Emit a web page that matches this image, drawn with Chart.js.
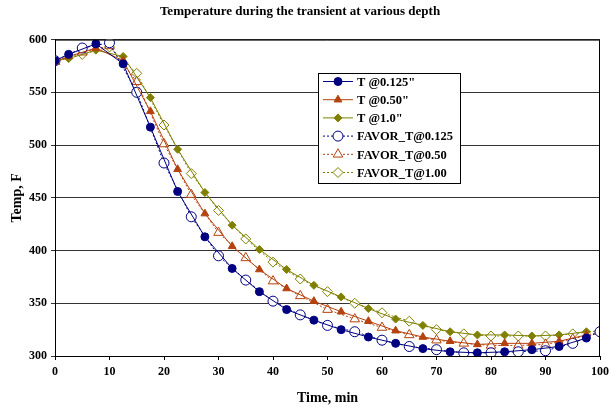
<!DOCTYPE html>
<html>
<head>
<meta charset="utf-8">
<script src="https://cdn.jsdelivr.net/npm/chart.js@4"></script>
<style>
  html, body { margin: 0; padding: 0; background: #fff; }
  canvas { display: block; }
</style>
</head>
<body>
<canvas id="tempChart" width="609" height="407"></canvas>
<script>
// measured times (min)
var tSolid = [0, 2.5, 7.5, 12.5, 17.5, 22.5, 27.5, 32.5, 37.5, 42.5, 47.5, 52.5, 57.5, 62.5, 67.5, 72.5, 77.5, 82.5, 87.5, 92.5, 97.5];
var tFavor = [0, 5, 10, 15, 20, 25, 30, 35, 40, 45, 50, 55, 60, 65, 70, 75, 80, 85, 90, 95, 100];

var t0125 = [580, 586, 596, 577, 517, 456, 413, 383, 361, 344, 334, 325, 318, 312, 307, 304, 303, 304, 306, 309, 317];
var t050  = [579, 584, 592, 580, 532, 477, 435, 404, 382, 364, 352, 342, 333, 324, 318, 314, 311, 312, 312, 314, 320];
var t100  = [580, 582, 590, 584, 545, 496, 455, 424, 401, 382, 367, 356, 345, 335, 329, 323, 320, 320, 319, 320, 323];

var fav0125 = [580, 592, 597, 550, 483, 432, 395, 372, 352, 339, 329, 323, 315, 309, 306, 303, 303, 304, 305, 312, 323];
var fav050  = [579, 588, 594, 560, 501, 453, 417, 393, 371, 357, 344, 335, 327, 320, 315, 312, 310, 310, 311, 316, 323];
var fav100  = [580, 586, 593, 568, 519, 473, 438, 411, 389, 373, 361, 350, 341, 333, 325, 321, 319, 319, 319, 321, 324];

var xTicks = [0, 10, 20, 30, 40, 50, 60, 70, 80, 90, 100];
var yTicks = [300, 350, 400, 450, 500, 550, 600];

var navy = '#000080';
var rust = '#b5420e';
var olive = '#808000';

function pts(xs, ys) {
	return xs.map(function (x, i) { return { x: x, y: ys[i] }; });
}

var serif = '"Liberation Serif", "Times New Roman", serif';

// legend box drawn inside the plot, like the original
var boxLegend = {
	id: 'boxLegend',
	afterDraw: function (chart) {
		var c = chart.ctx;
		var x = 318, y = 73, w = 142, h = 110;
		c.save();
		c.fillStyle = '#fff';
		c.fillRect(x, y, w, h);
		c.strokeStyle = '#000';
		c.lineWidth = 1;
		c.strokeRect(x + 0.5, y + 0.5, w, h);
		chart.data.datasets.forEach(function (ds, i) {
			var ry = y + 8.5 + i * 18.2;
			c.strokeStyle = ds.borderColor;
			c.lineWidth = 1;
			c.setLineDash(ds.borderDash || []);
			c.beginPath();
			c.moveTo(323, ry);
			c.lineTo(353, ry);
			c.stroke();
			c.setLineDash([]);
			c.fillStyle = ds.pointBackgroundColor;
			c.strokeStyle = ds.borderColor;
			c.lineWidth = 1;
			Chart.helpers.drawPoint(c, { pointStyle: ds.pointStyle, radius: ds.pointRadius, borderWidth: 1 }, 338, ry);
			c.fillStyle = '#000';
			c.font = 'bold 12.5px ' + serif;
			c.textBaseline = 'middle';
			c.fillText(ds.label, 357, ry + 1);
		});
		c.restore();
	}
};

function series(label, data, color, style, radius, filled, dashed) {
	return {
		label: label,
		data: data,
		showLine: true,
		borderColor: color,
		borderWidth: 1,
		borderDash: dashed ? [2, 2] : [],
		backgroundColor: filled ? color : '#fff',
		pointBackgroundColor: filled ? color : '#fff',
		pointBorderColor: color,
		pointBorderWidth: 1,
		pointStyle: style,
		pointRadius: radius,
		pointHoverRadius: radius
	};
}

var ctx = document.getElementById('tempChart').getContext('2d');
var tempChart = new Chart(ctx, {
	type: 'scatter',
	data: {
		datasets: [
			series('T @0.125"', pts(tSolid, t0125), navy, 'circle', 4, true, false),
			series('T @0.50"', pts(tSolid, t050), rust, 'triangle', 4.5, true, false),
			series('T @1.0"', pts(tSolid, t100), olive, 'rectRot', 4, true, false),
			series('FAVOR_T@0.125', pts(tFavor, fav0125), navy, 'circle', 5, false, true),
			series('FAVOR_T@0.50', pts(tFavor, fav050), rust, 'triangle', 5.5, false, true),
			series('FAVOR_T@1.00', pts(tFavor, fav100), olive, 'rectRot', 5, false, true)
		]
	},
	options: {
		responsive: false,
		animation: false,
		layout: { padding: { left: 0, right: 9, top: 0, bottom: 0 } },
		plugins: {
			legend: { display: false },
			tooltip: { enabled: false },
			title: {
				display: true,
				text: 'Temperature during the transient at various depth',
				color: '#000',
				font: { size: 13, weight: 'bold', family: serif },
				padding: { top: 4, bottom: 20 }
			}
		},
		scales: {
			x: {
				type: 'linear',
				min: 0,
				max: 100,
				afterBuildTicks: function (scale) {
					scale.ticks = xTicks.map(function (v) { return { value: v }; });
				},
				afterFit: function (scale) {
					scale.height = 51;
					scale.paddingRight = 0;
					scale.paddingLeft = 0;
				},
				grid: {
					display: true,
					drawOnChartArea: false,
					drawTicks: true,
					tickLength: 4,
					color: '#000'
				},
				border: { color: '#000', width: 1 },
				ticks: {
					color: '#000',
					padding: 5,
					maxRotation: 0,
					font: { size: 12, weight: 'bold', family: serif }
				},
				title: {
					display: true,
					text: 'Time, min',
					color: '#000',
					padding: { top: 5, bottom: 0 },
					font: { size: 14, weight: 'bold', family: serif }
				}
			},
			y: {
				type: 'linear',
				min: 300,
				max: 600,
				afterBuildTicks: function (scale) {
					scale.ticks = yTicks.map(function (v) { return { value: v }; });
				},
				afterFit: function (scale) { scale.width = 55; },
				grid: {
					color: '#333',
					lineWidth: 1,
					tickLength: 4
				},
				border: { color: '#000', width: 1 },
				ticks: {
					color: '#000',
					padding: 4,
					font: { size: 12, weight: 'bold', family: serif }
				},
				title: {
					display: true,
					text: 'Temp, F',
					color: '#000',
					padding: { top: 9, bottom: 4 },
					font: { size: 14, weight: 'bold', family: serif }
				}
			}
		}
	},
	plugins: [boxLegend, {
		id: 'frame',
		afterDatasetsDraw: function (chart) {
			var a = chart.chartArea, c = chart.ctx;
			c.save();
			c.strokeStyle = '#000';
			c.lineWidth = 1;
			c.beginPath();
			c.moveTo(a.left, a.top + 0.5);
			c.lineTo(a.right - 0.5, a.top + 0.5);
			c.lineTo(a.right - 0.5, a.bottom);
			c.stroke();
			c.restore();
		}
	}]
});
</script>
</body>
</html>
